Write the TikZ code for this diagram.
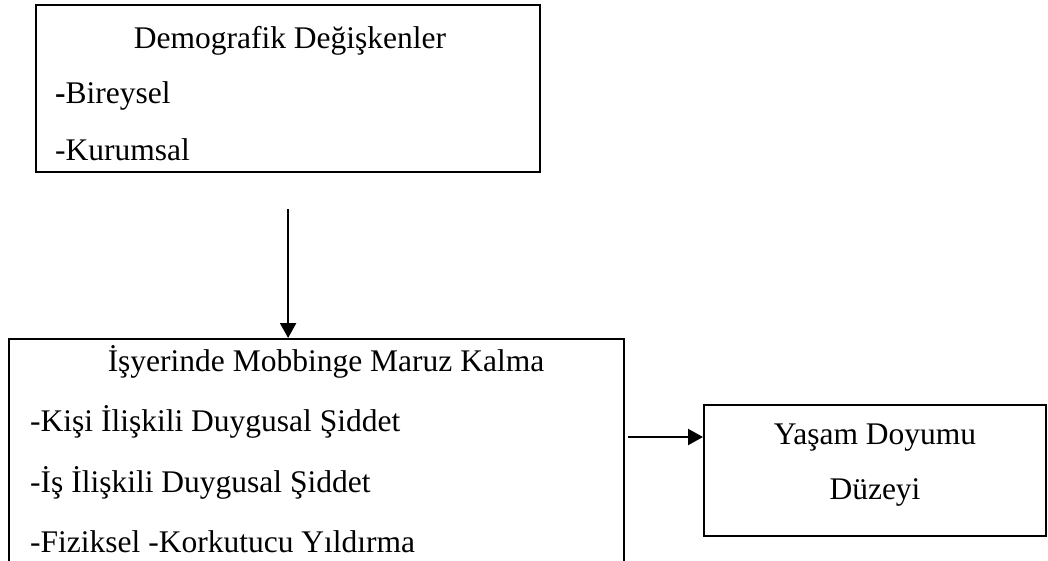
\documentclass[tikz,border=0pt]{standalone}
\usepackage{fontspec}
\setmainfont{Liberation Serif}
\usetikzlibrary{arrows.meta}
\begin{document}
\begin{tikzpicture}[x=1pt,y=-1pt,
  box/.style={draw, line width=2.2pt, inner sep=0pt, anchor=north west},
  txt/.style={inner sep=0pt, font=\fontsize{31.5}{37}\selectfont},
  arr/.style={line width=2.2pt, -{Triangle[length=15pt,width=16pt]}}]
\useasboundingbox (0,0) rectangle (1048,560);
% boxes
\node[box, minimum width=504pt, minimum height=167pt] (demo) at (35,4) {};
\node[box, minimum width=615pt, minimum height=260pt] (bot) at (8,338) {};
\node[box, line width=2pt, minimum width=342pt, minimum height=131pt] (rt) at (703,404) {};
% texts
\node[txt, anchor=base] (demoT) at (290,48) {Demografik Değişkenler};
\node[txt, anchor=base west] (demo1) at (55,103) {\textbf{-}Bireysel};
\node[txt, anchor=base west] (demo2) at (55,160) {-Kurumsal};
\node[txt, anchor=base] (botT) at (326,371) {İşyerinde Mobbinge Maruz Kalma};
\node[txt, anchor=base west] (bot1) at (30,431) {-Kişi İlişkili Duygusal Şiddet};
\node[txt, anchor=base west] (bot2) at (30,492) {-İş İlişkili Duygusal Şiddet};
\node[txt, anchor=base west] (bot3) at (30,552) {-Fiziksel -Korkutucu Yıldırma};
\node[txt, anchor=base] (rtT) at (875,444) {Yaşam Doyumu};
\node[txt, anchor=base] (rt2) at (875,499) {Düzeyi};
% connectors
\draw[arr, shorten <=36pt] (demo.south) -- (demo.south |- bot.north);
\coordinate (hy) at (0,437);
\draw[arr, shorten <=3pt] (bot.east |- hy) -- (rt.west |- hy);
\end{tikzpicture}
\end{document}
